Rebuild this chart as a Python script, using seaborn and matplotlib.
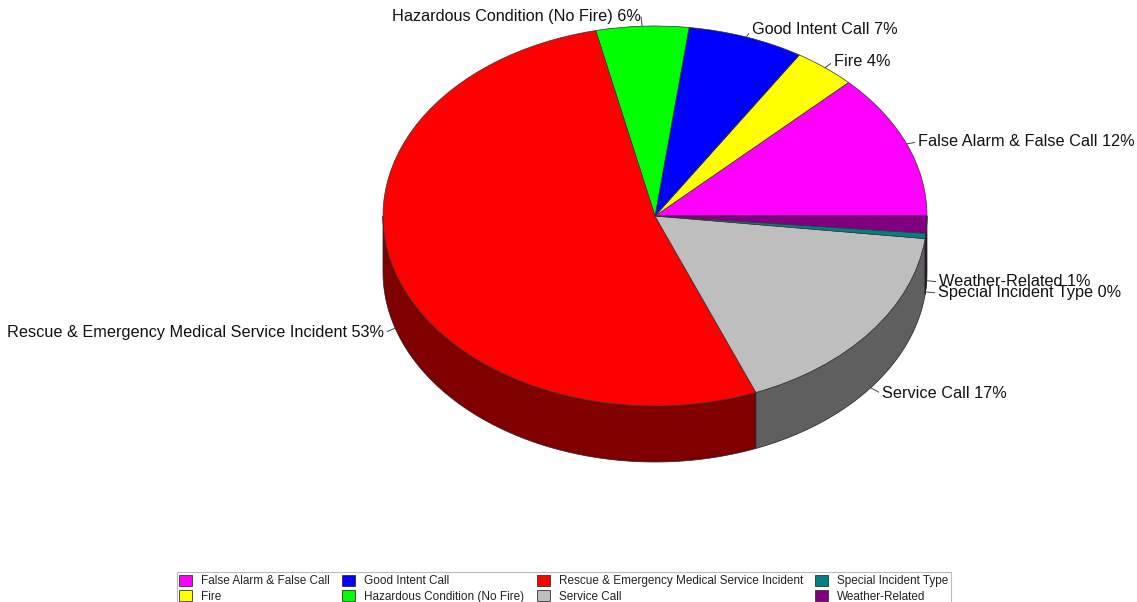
import numpy as np
import matplotlib
matplotlib.use("Agg")
import matplotlib.pyplot as plt
from matplotlib.patches import Patch
import seaborn as sns

categories = ["False Alarm & False Call", "Fire", "Good Intent Call",
              "Hazardous Condition (No Fire)",
              "Rescue & Emergency Medical Service Incident", "Service Call",
              "Special Incident Type", "Weather-Related"]
shares = [12.4, 3.7, 6.9, 5.5, 52.55, 17.05, 0.45, 1.45]
slice_colors = ["#ff00ff", "#ffff00", "#0000ff", "#00ff00",
                "#ff0000", "#bebebe", "#008080", "#800080"]
# label anchor in pixels from the top-left corner, with its horizontal alignment
label_places = [(918, 142, "left"), (834, 61, "left"), (752, 29, "left"),
                (641, 17, "right"), (384, 333, "right"), (882, 394, "left"),
                (938, 293, "left"), (939, 282, "left")]

W, H = 1137, 602
CX, CY, RX, RY, DEPTH = 655, 216, 272, 190, 56

sns.set_theme(style="white")
plt.rcParams["font.family"] = ["Liberation Sans", "DejaVu Sans"]

fig = plt.figure(figsize=(W / 100, H / 100), dpi=100, facecolor="white")
ax = fig.add_axes([0, 0, 1, 1])

depth = DEPTH / RY
fractions = np.array(shares) / sum(shares)
edges = np.concatenate([[0], np.cumsum(fractions)]) * 360

# side wall of the disc: only the part of each slice on the near half shows
for a0, a1, col in zip(edges[:-1], edges[1:], slice_colors):
    lo, hi = max(a0, 180), min(a1, 360)
    if hi <= lo:
        continue
    t = np.radians(np.linspace(lo, hi, 200))
    x, y = np.cos(t), np.sin(t)
    rgb = np.array(matplotlib.colors.to_rgb(col)) * 0.5
    ax.fill(np.r_[x, x[::-1]], np.r_[y, y[::-1] - depth],
            facecolor=rgb, edgecolor="#222222", linewidth=0.5, zorder=1)

ax.pie(shares, colors=slice_colors, startangle=0, counterclock=True,
       radius=1, center=(0, 0),
       wedgeprops=dict(edgecolor="#333333", linewidth=0.5, zorder=2))
ax.set_aspect("auto")
ax.set_xlim(-CX / RX, (W - CX) / RX)
ax.set_ylim(-(H - CY) / RY, CY / RY)
ax.axis("off")

# labels with leader lines running to the rim of each slice
for name, share, a0, a1, (px, py, ha) in zip(categories, shares, edges[:-1],
                                             edges[1:], label_places):
    mid = np.radians((a0 + a1) / 2)
    ax_x, ax_y = np.cos(mid), np.sin(mid)
    if ax_y < 0:
        ax_y -= depth
    ax.annotate(f"{name} {round(share):d}%", xy=(ax_x, ax_y),
                xytext=(px, H - py), textcoords="figure pixels",
                ha=ha, va="center", fontsize=11.7, color="#111111",
                arrowprops=dict(arrowstyle="-", color="#444444", lw=0.7,
                                shrinkA=0, shrinkB=0,
                                relpos=(0 if ha == "left" else 1, 0.5)),
                zorder=5)

handles = [Patch(facecolor=c, edgecolor="#333333", linewidth=0.6)
           for c in slice_colors]
leg = fig.legend(handles, categories, ncol=4, loc="lower left",
                 bbox_to_anchor=(177 / W, -3 / H), borderaxespad=0,
                 fontsize=8.5, labelcolor="#222222", frameon=True,
                 fancybox=False, edgecolor="#aaaaaa", handlelength=1.1,
                 handleheight=1.15, handletextpad=0.75, columnspacing=1.05,
                 labelspacing=0.2, borderpad=0.2)
leg.get_frame().set_linewidth(0.8)

fig.savefig("out.png", dpi=100, facecolor="white")
